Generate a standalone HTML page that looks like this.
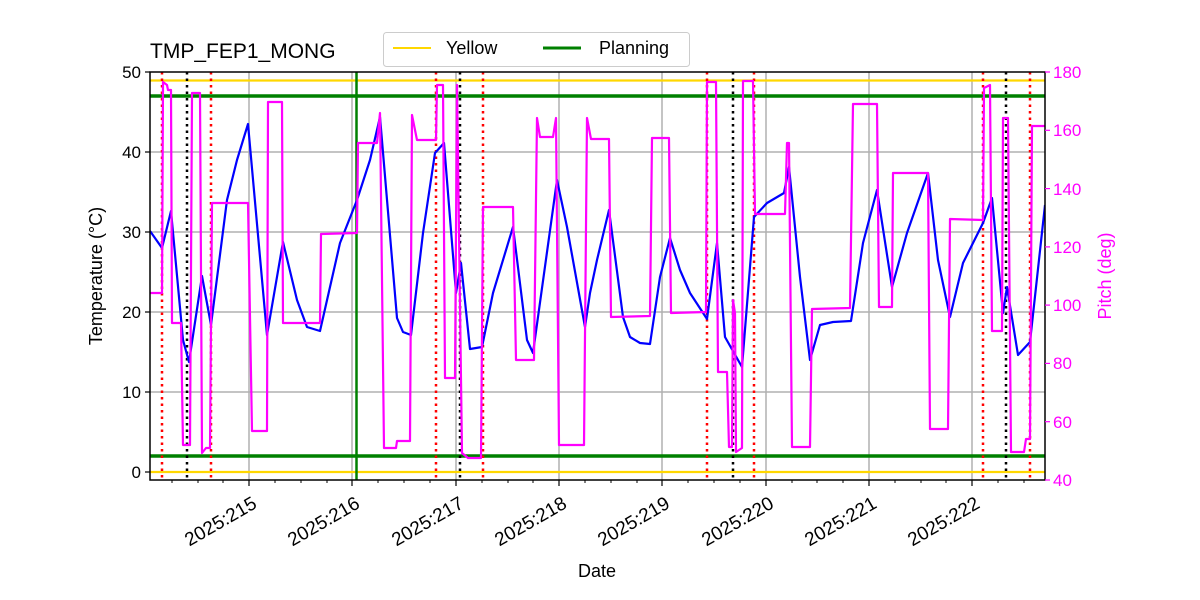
<!DOCTYPE html>
<html><head><meta charset="utf-8"><style>
body{margin:0;background:#fff}
svg{display:block;font-family:"Liberation Sans","DejaVu Sans",sans-serif}
</style></head><body>
<svg width="1200" height="600" viewBox="0 0 1200 600" xmlns="http://www.w3.org/2000/svg">
<defs><clipPath id="c"><rect x="150" y="72" width="895" height="408"/></clipPath></defs>
<rect width="1200" height="600" fill="#fff"/>
<g stroke="#b0b0b0" stroke-width="1.5">
<line x1="249" y1="72" x2="249" y2="480"/><line x1="352" y1="72" x2="352" y2="480"/><line x1="456" y1="72" x2="456" y2="480"/><line x1="559" y1="72" x2="559" y2="480"/><line x1="662" y1="72" x2="662" y2="480"/><line x1="766" y1="72" x2="766" y2="480"/><line x1="869" y1="72" x2="869" y2="480"/><line x1="972" y1="72" x2="972" y2="480"/>
<line x1="150" y1="152" x2="1045" y2="152"/><line x1="150" y1="232" x2="1045" y2="232"/><line x1="150" y1="312" x2="1045" y2="312"/><line x1="150" y1="392" x2="1045" y2="392"/>
</g>
<g clip-path="url(#c)">
<line x1="150" y1="80.5" x2="1045" y2="80.5" stroke="#ffd700" stroke-width="2.2"/>
<line x1="150" y1="472" x2="1045" y2="472" stroke="#ffd700" stroke-width="2.2"/>
<line x1="150" y1="96" x2="1045" y2="96" stroke="#008000" stroke-width="3.5"/>
<line x1="150" y1="456" x2="1045" y2="456" stroke="#008000" stroke-width="3.5"/>
<line x1="356.5" y1="72" x2="356.5" y2="480" stroke="#008000" stroke-width="2.5"/>
<g stroke="#ff0000" stroke-width="2.5" stroke-dasharray="2.5,4">
<line x1="162" y1="72" x2="162" y2="480"/><line x1="211" y1="72" x2="211" y2="480"/><line x1="436" y1="72" x2="436" y2="480"/><line x1="483" y1="72" x2="483" y2="480"/><line x1="707" y1="72" x2="707" y2="480"/><line x1="754" y1="72" x2="754" y2="480"/><line x1="983" y1="72" x2="983" y2="480"/><line x1="1030" y1="72" x2="1030" y2="480"/>
</g>
<g stroke="#000" stroke-width="2.5" stroke-dasharray="2.5,4">
<line x1="187" y1="72" x2="187" y2="480"/><line x1="460" y1="72" x2="460" y2="480"/><line x1="733" y1="72" x2="733" y2="480"/><line x1="1006" y1="72" x2="1006" y2="480"/>
</g>
<polyline fill="none" stroke="#0000ff" stroke-width="2.2" stroke-linejoin="round" points="150,231 162,248 171,211 183,340 189,362 202,276 211,325 227,200 237,160 248,124 267,335 283,242 297,300 307,327 320,331 340,243 357,200 370,160 380,117 397,318 403,332 411,335 423,233 435,153 444,143 456,293 461,263 470,349 482,347 493,293 513,227 527,340 533,353 557,180 567,227 585,327 590,293 597,260 609,210 623,317 630,337 640,343 650,344 660,277 670,238 680,270 690,293 707,319 717,243 725,337 742,367 754,217 767,203 784,193 789,167 800,277 810,360 820,325 833,322 851,321 863,243 877,190 892,287 907,233 928,173 938,260 950,317 963,263 983,223 992,198 1003,313 1007,287 1018,355 1030,342 1045,205"/>
<polyline fill="none" stroke="#ff00ff" stroke-width="2.2" stroke-linejoin="round" points="150,293 162,293 163,82 167,85 168,90 171,90 172,323 181,323 183,445 190,445 192,93 200,93 202,453 206,448 210,448 212,203 248,203 252,431 267,431 268,102 282,102 283,323 320,323 321,234 357,233 358,143 377,143 380,113 384,448 396,448 397,441 410,441 412,115 417,140 436,140 437,85 443,85 445,378 455,378 457,85 462,453 468,458 481,458 483,207 513,207 516,360 534,360 537,118 540,137 553,137 556,118 559,445 584,445 587,118 591,139 609,139 611,317 650,316 652,138 669,138 671,313 706,312 707,82 716,82 718,372 727,372 729,447 732,447 733,300 735,313 736,452 742,448 743,81 753,81 755,214 785,214 787,143 789,143 792,447 810,447 812,309 850,308 853,104 877,104 879,307 892,307 893,173 928,173 930,429 948,429 950,219 983,220 984,88 990,85 992,331 1002,331 1003,118 1008,118 1011,452 1024,452 1026,439 1030,439 1032,126 1045,126"/>
</g>
<rect x="150" y="72" width="895" height="408" fill="none" stroke="#000" stroke-width="1.5"/>
<g stroke="#000" stroke-width="1.2">
<line x1="145" y1="72" x2="150" y2="72"/><line x1="145" y1="152" x2="150" y2="152"/><line x1="145" y1="232" x2="150" y2="232"/><line x1="145" y1="312" x2="150" y2="312"/><line x1="145" y1="392" x2="150" y2="392"/><line x1="145" y1="472" x2="150" y2="472"/>
<line x1="249" y1="480" x2="249" y2="486"/><line x1="352" y1="480" x2="352" y2="486"/><line x1="456" y1="480" x2="456" y2="486"/><line x1="559" y1="480" x2="559" y2="486"/><line x1="662" y1="480" x2="662" y2="486"/><line x1="766" y1="480" x2="766" y2="486"/><line x1="869" y1="480" x2="869" y2="486"/><line x1="972" y1="480" x2="972" y2="486"/>
</g>
<g stroke="#000" stroke-width="1">
<line x1="172" y1="480" x2="172" y2="483"/><line x1="198" y1="480" x2="198" y2="483"/><line x1="223" y1="480" x2="223" y2="483"/>
<line x1="275" y1="480" x2="275" y2="483"/><line x1="301" y1="480" x2="301" y2="483"/><line x1="327" y1="480" x2="327" y2="483"/>
<line x1="378" y1="480" x2="378" y2="483"/><line x1="404" y1="480" x2="404" y2="483"/><line x1="430" y1="480" x2="430" y2="483"/>
<line x1="482" y1="480" x2="482" y2="483"/><line x1="508" y1="480" x2="508" y2="483"/><line x1="533" y1="480" x2="533" y2="483"/>
<line x1="585" y1="480" x2="585" y2="483"/><line x1="611" y1="480" x2="611" y2="483"/><line x1="637" y1="480" x2="637" y2="483"/>
<line x1="688" y1="480" x2="688" y2="483"/><line x1="714" y1="480" x2="714" y2="483"/><line x1="740" y1="480" x2="740" y2="483"/>
<line x1="792" y1="480" x2="792" y2="483"/><line x1="817" y1="480" x2="817" y2="483"/><line x1="843" y1="480" x2="843" y2="483"/>
<line x1="895" y1="480" x2="895" y2="483"/><line x1="921" y1="480" x2="921" y2="483"/><line x1="946" y1="480" x2="946" y2="483"/>
<line x1="998" y1="480" x2="998" y2="483"/><line x1="1024" y1="480" x2="1024" y2="483"/>
</g>
<g stroke="#ff00ff" stroke-width="1.2">
<line x1="1045" y1="72" x2="1050" y2="72"/><line x1="1045" y1="130.3" x2="1050" y2="130.3"/><line x1="1045" y1="188.6" x2="1050" y2="188.6"/><line x1="1045" y1="246.9" x2="1050" y2="246.9"/><line x1="1045" y1="305.1" x2="1050" y2="305.1"/><line x1="1045" y1="363.4" x2="1050" y2="363.4"/><line x1="1045" y1="421.7" x2="1050" y2="421.7"/><line x1="1045" y1="480" x2="1050" y2="480"/>
</g>
<g font-size="17" fill="#000" text-anchor="end">
<text x="141" y="78">50</text><text x="141" y="158">40</text><text x="141" y="238">30</text><text x="141" y="318">20</text><text x="141" y="398">10</text><text x="141" y="478">0</text>
</g>
<g font-size="17" fill="#ff00ff">
<text x="1053" y="78">180</text><text x="1053" y="136">160</text><text x="1053" y="195">140</text><text x="1053" y="253">120</text><text x="1053" y="311">100</text><text x="1053" y="369">80</text><text x="1053" y="428">60</text><text x="1053" y="486">40</text>
</g>
<g font-size="19" fill="#000" text-anchor="end">
<text transform="translate(258,507) rotate(-30)">2025:215</text>
<text transform="translate(361,507) rotate(-30)">2025:216</text>
<text transform="translate(465,507) rotate(-30)">2025:217</text>
<text transform="translate(568,507) rotate(-30)">2025:218</text>
<text transform="translate(671,507) rotate(-30)">2025:219</text>
<text transform="translate(775,507) rotate(-30)">2025:220</text>
<text transform="translate(878,507) rotate(-30)">2025:221</text>
<text transform="translate(981,507) rotate(-30)">2025:222</text>
</g>
<text x="597" y="577" font-size="18" text-anchor="middle">Date</text>
<text transform="translate(102,276) rotate(-90)" font-size="18" text-anchor="middle">Temperature (°C)</text>
<text transform="translate(1111,276) rotate(-90)" font-size="18" text-anchor="middle" fill="#ff00ff">Pitch (deg)</text>
<text x="150" y="58" font-size="21">TMP_FEP1_MONG</text>
<rect x="383.5" y="32.5" width="306" height="34" rx="3" fill="#fff" stroke="#ccc"/>
<line x1="393" y1="48" x2="431" y2="48" stroke="#ffd700" stroke-width="2"/>
<text x="446" y="54" font-size="18">Yellow</text>
<line x1="543" y1="48" x2="581" y2="48" stroke="#008000" stroke-width="3"/>
<text x="599" y="54" font-size="18">Planning</text>
</svg>
</body></html>
